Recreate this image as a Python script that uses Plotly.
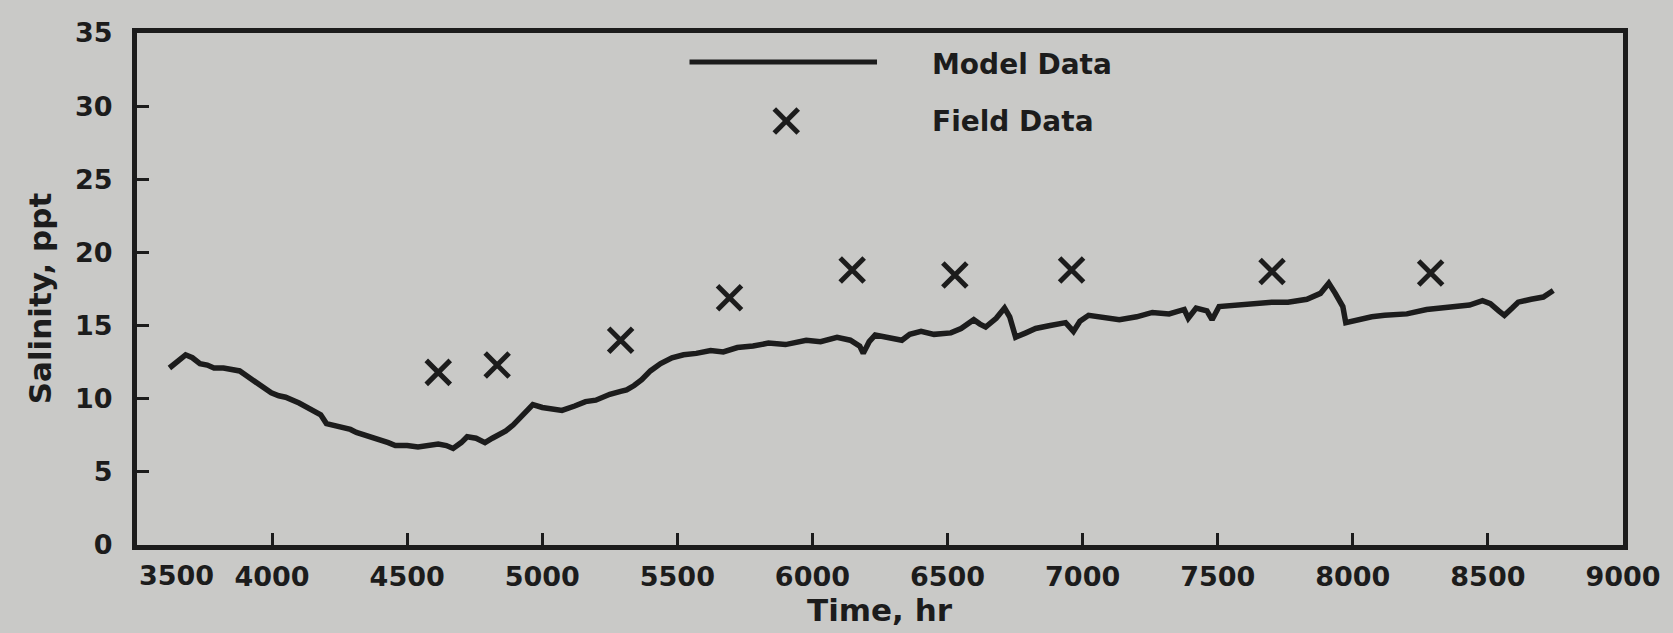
import plotly.graph_objects as go

# ---------------- data ----------------
model_time = [3620, 3650, 3680, 3705, 3733, 3760, 3785, 3820, 3858, 3880, 3903, 3950, 3997, 4025,
              4050, 4100, 4154, 4180, 4201, 4230, 4260, 4290, 4312, 4350, 4393, 4430, 4456, 4500,
              4540, 4577, 4615, 4645, 4670, 4700, 4722, 4755, 4788, 4815, 4840, 4865, 4892, 4930,
              4965, 5000, 5030, 5073, 5120, 5160, 5198, 5250, 5290, 5312, 5340, 5368, 5400, 5438,
              5480, 5523, 5570, 5623, 5670, 5722, 5780, 5837, 5900, 5977, 6030, 6091, 6140, 6175,
              6188, 6210, 6232, 6280, 6331, 6360, 6402, 6450, 6512, 6550, 6597, 6620, 6641, 6680,
              6711, 6730, 6752, 6790, 6826, 6880, 6937, 6966, 6990, 7022, 7080, 7136, 7200, 7258,
              7320, 7376, 7391, 7420, 7460, 7479, 7505, 7560, 7649, 7700, 7760, 7830, 7880, 7911,
              7935, 7963, 7974, 8020, 8070, 8118, 8200, 8273, 8350, 8432, 8480, 8509, 8540, 8561,
              8590, 8612, 8660, 8705, 8742]
model_salinity = [12.1, 12.5, 13.0, 12.8, 12.4, 12.3, 12.1, 12.1, 12.0, 11.9, 11.6, 11.0, 10.4, 10.2,
                  10.1, 9.7, 9.2, 8.9, 8.3, 8.2, 8.0, 7.9, 7.7, 7.5, 7.2, 7.0, 6.8, 6.8,
                  6.7, 6.8, 6.9, 6.8, 6.6, 7.0, 7.4, 7.3, 7.0, 7.3, 7.5, 7.8, 8.2, 8.9,
                  9.6, 9.4, 9.3, 9.2, 9.5, 9.8, 9.9, 10.3, 10.5, 10.6, 10.9, 11.3, 11.9, 12.4,
                  12.8, 13.0, 13.1, 13.3, 13.2, 13.5, 13.6, 13.8, 13.7, 14.0, 13.9, 14.2, 14.0, 13.6,
                  13.1, 13.9, 14.35, 14.2, 14.0, 14.4, 14.6, 14.4, 14.5, 14.8, 15.4, 15.1, 14.9, 15.5,
                  16.2, 15.6, 14.2, 14.5, 14.8, 15.0, 15.2, 14.6, 15.3, 15.7, 15.5, 15.4, 15.6, 15.9,
                  15.8, 16.1, 15.5, 16.2, 16.0, 15.4, 16.3, 16.4, 16.5, 16.6, 16.6, 16.8, 17.2, 17.9,
                  17.2, 16.3, 15.2, 15.4, 15.6, 15.7, 15.8, 16.1, 16.2, 16.4, 16.7, 16.5, 16.0, 15.7,
                  16.2, 16.6, 16.8, 16.95, 17.4]

field_time = [4615, 4833, 5290, 5693, 6147, 6527, 6959, 7701, 8288]
field_salinity = [11.8, 12.3, 14.0, 16.9, 18.8, 18.45, 18.8, 18.7, 18.6]

x_tick_vals = [4000, 4500, 5000, 5500, 6000, 6500, 7000, 7500, 8000, 8500, 9000]
x_tick_text = ["4000", "4500", "5000", "5500", "6000", "6500", "7000", "7500", "8000", "8500", "9000"]
y_tick_vals = [0, 5, 10, 15, 20, 25, 30, 35]
y_tick_text = ["0", "5", "10", "15", "20", "25", "30", "35"]

legend_labels = ["Model Data", "Field Data"]
x_title = "Time, hr"
y_title = "Salinity, ppt"

# ---------------- style ----------------
INK = "#1c1c1c"
BG = "#c9c9c7"
FONT = "DejaVu Sans"

fig = go.Figure()
fig.add_trace(go.Scatter(
    x=model_time, y=model_salinity, mode="lines", name=legend_labels[0],
    line=dict(color=INK, width=5.5), showlegend=False))
fig.add_trace(go.Scatter(
    x=field_time, y=field_salinity, mode="markers", name=legend_labels[1],
    marker=dict(symbol="x-thin", size=24, line=dict(color=INK, width=5)),
    showlegend=False))

# plot-area geometry in pixels (for the hand-drawn style legend)
L, R, T, B = 137, 1627, 33, 545
W, H = R - L, B - T


def px(xp):
    return (xp - L) / W


def py(yp):
    return (B - yp) / H


shapes = [
    dict(type="line", xref="paper", yref="paper", x0=px(691), x1=px(879), y0=py(62), y1=py(62),
         line=dict(color=INK, width=5)),
    dict(type="line", xref="paper", yref="paper", x0=px(776), x1=px(800), y0=py(109), y1=py(133),
         line=dict(color=INK, width=5)),
    dict(type="line", xref="paper", yref="paper", x0=px(776), x1=px(800), y0=py(133), y1=py(109),
         line=dict(color=INK, width=5)),
]


def bold(size):
    return dict(family=FONT, size=size, color=INK, weight="bold")


annotations = [
    dict(text=legend_labels[0], xref="paper", yref="paper", x=px(932), y=py(64), xanchor="left",
         yanchor="middle", showarrow=False, font=bold(28)),
    dict(text=legend_labels[1], xref="paper", yref="paper", x=px(932), y=py(121), xanchor="left",
         yanchor="middle", showarrow=False, font=bold(28)),
    dict(text="3500", xref="x", yref="paper", x=3500, y=py(575), xanchor="left", yanchor="middle",
         showarrow=False, font=bold(27)),
    dict(text=x_title, xref="paper", yref="paper", x=0.5, y=py(610), xanchor="center",
         yanchor="middle", showarrow=False, font=bold(31)),
    dict(text=y_title, xref="paper", yref="paper", x=px(40), y=py(298), xanchor="center",
         yanchor="middle", textangle=-90, showarrow=False, font=bold(31)),
]

fig.update_layout(
    width=1673, height=633,
    margin=dict(l=L, r=1673 - R, t=T, b=633 - B, pad=0),
    paper_bgcolor=BG, plot_bgcolor=BG,
    font=bold(26),
    shapes=shapes, annotations=annotations,
    showlegend=False,
)
fig.update_xaxes(
    range=[3500, 9000], tickvals=x_tick_vals, ticktext=x_tick_text,
    ticks="inside", ticklen=12, tickwidth=3, tickcolor=INK,
    showline=True, linewidth=5, linecolor=INK, mirror=True,
    showgrid=False, zeroline=False, ticklabelstandoff=4,
    tickfont=bold(27),
)
fig.update_yaxes(
    range=[0, 35], tickvals=y_tick_vals, ticktext=y_tick_text,
    ticks="inside", ticklen=12, tickwidth=3, tickcolor=INK,
    showline=True, linewidth=5, linecolor=INK, mirror=True,
    showgrid=False, zeroline=False, ticklabelstandoff=14,
    tickfont=bold(27),
)

fig.write_html(
    "out.html",
    config={"displayModeBar": False},
    post_script="document.body.style.margin='0';document.body.style.overflow='hidden';"
                "document.body.style.background='" + BG + "';",
)
